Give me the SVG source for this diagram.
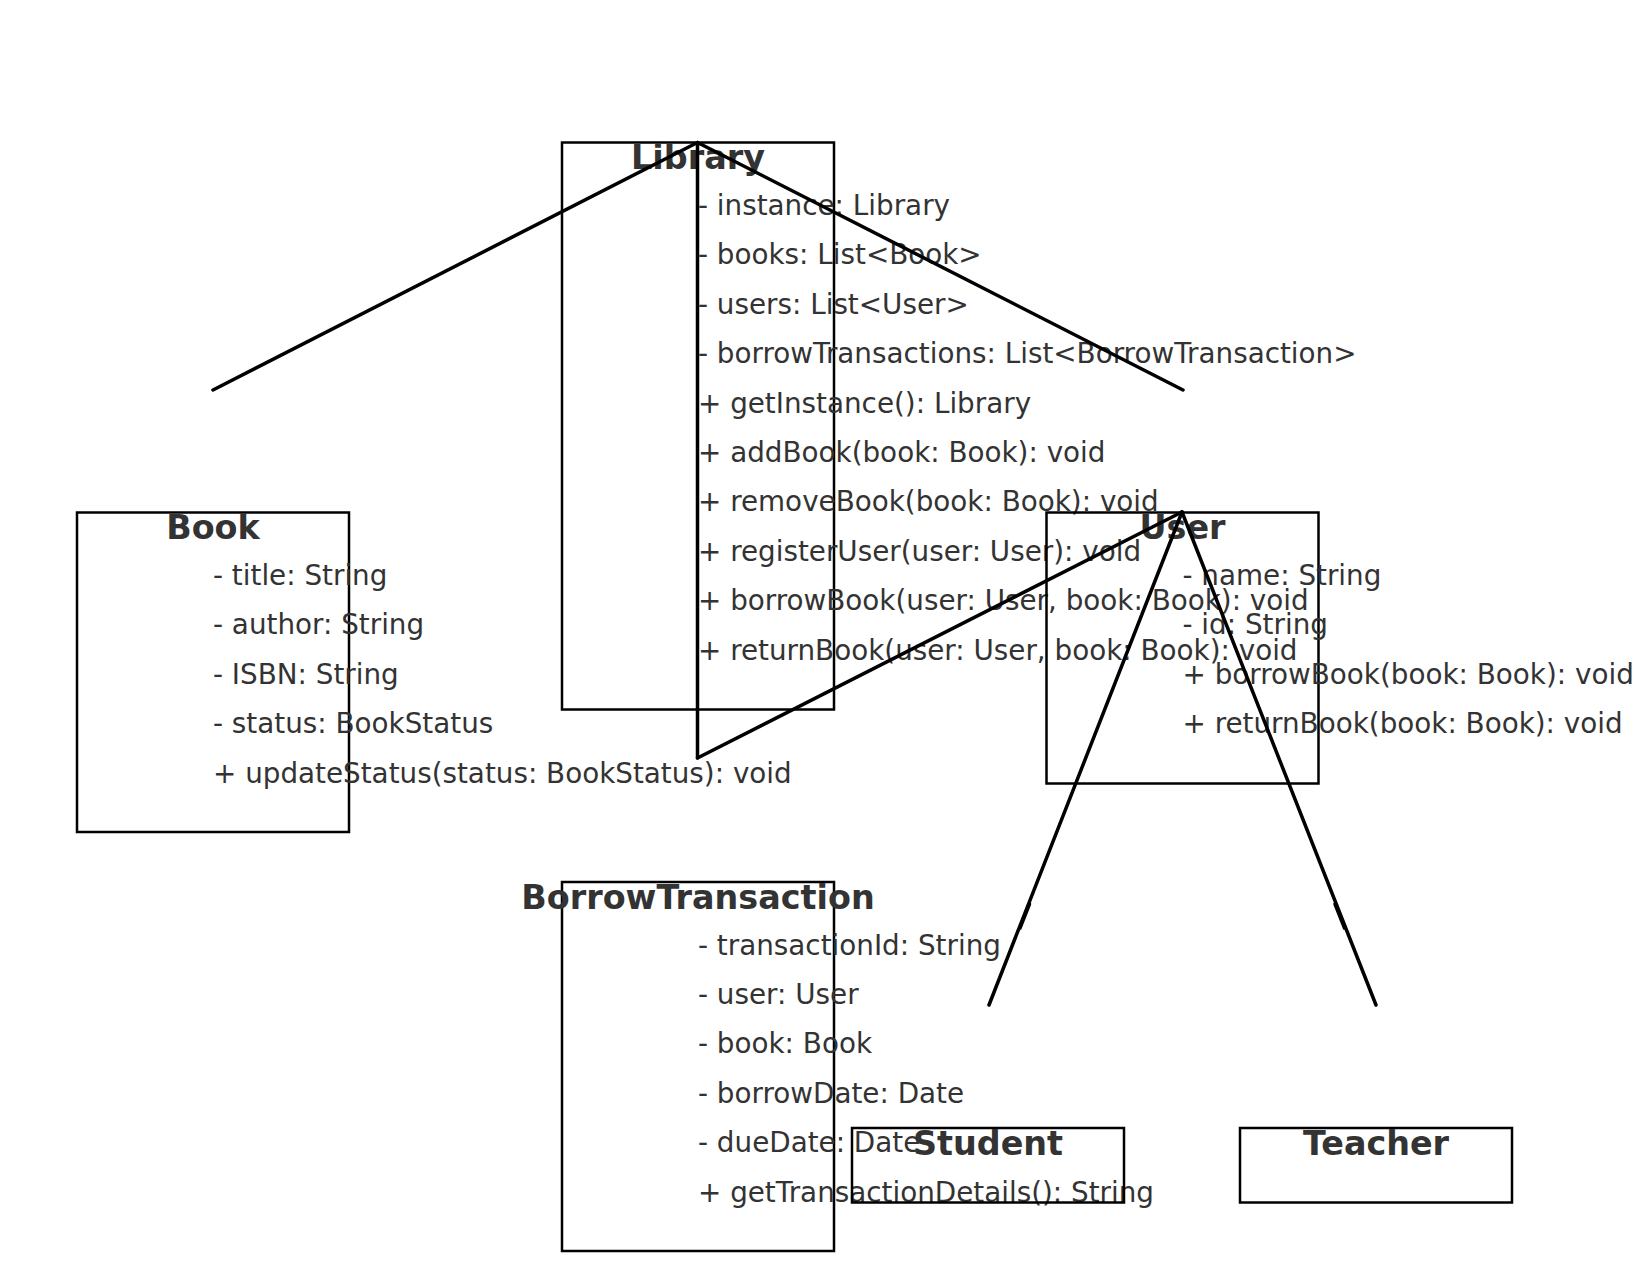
<svg xmlns="http://www.w3.org/2000/svg" width="1652" height="1272" viewBox="0 0 1652 1272">
<style>
.box{fill:none;stroke:#000;stroke-width:2.5}
.t{font-family:"DejaVu Sans",sans-serif;font-size:33.4px;font-weight:bold;fill:#333;text-anchor:middle}
.a{font-family:"DejaVu Sans",sans-serif;font-size:27.8px;fill:#333}
.c{stroke:#000;stroke-width:3.5;fill:none;stroke-linecap:round;stroke-linejoin:miter}
</style>
<rect width="1652" height="1272" fill="#fff"/>
<g id="node-library">
<rect class="box" x="562" y="142.5" width="272" height="567"/>
<text class="t" x="698" y="169">Library</text>
<text class="a" x="698" y="215">- instance: Library</text>
<text class="a" x="698" y="264.4">- books: List&lt;Book&gt;</text>
<text class="a" x="698" y="313.8">- users: List&lt;User&gt;</text>
<text class="a" x="698" y="363.2">- borrowTransactions: List&lt;BorrowTransaction&gt;</text>
<text class="a" x="698" y="412.6">+ getInstance(): Library</text>
<text class="a" x="698" y="462">+ addBook(book: Book): void</text>
<text class="a" x="698" y="511.4">+ removeBook(book: Book): void</text>
<text class="a" x="698" y="560.8">+ registerUser(user: User): void</text>
<text class="a" x="698" y="610.2">+ borrowBook(user: User, book: Book): void</text>
<text class="a" x="698" y="659.6">+ returnBook(user: User, book: Book): void</text>
</g>
<g id="node-book">
<rect class="box" x="77" y="512.5" width="272" height="319.5"/>
<text class="t" x="213" y="539">Book</text>
<text class="a" x="213" y="585">- title: String</text>
<text class="a" x="213" y="634.4">- author: String</text>
<text class="a" x="213" y="683.8">- ISBN: String</text>
<text class="a" x="213" y="733.2">- status: BookStatus</text>
<text class="a" x="213" y="782.6">+ updateStatus(status: BookStatus): void</text>
</g>
<g id="node-user">
<rect class="box" x="1046.5" y="512.5" width="272" height="271"/>
<text class="t" x="1182.5" y="539">User</text>
<text class="a" x="1182.5" y="585">- name: String</text>
<text class="a" x="1182.5" y="634.4">- id: String</text>
<text class="a" x="1182.5" y="683.8">+ borrowBook(book: Book): void</text>
<text class="a" x="1182.5" y="733.2">+ returnBook(book: Book): void</text>
</g>
<g id="node-borrowtransaction">
<rect class="box" x="562" y="882" width="272" height="369"/>
<text class="t" x="698" y="908.5">BorrowTransaction</text>
<text class="a" x="698" y="954.5">- transactionId: String</text>
<text class="a" x="698" y="1003.9">- user: User</text>
<text class="a" x="698" y="1053.3">- book: Book</text>
<text class="a" x="698" y="1102.7">- borrowDate: Date</text>
<text class="a" x="698" y="1152.1">- dueDate: Date</text>
<text class="a" x="698" y="1201.5">+ getTransactionDetails(): String</text>
</g>
<g id="node-student">
<rect class="box" x="852" y="1128" width="272" height="74.5"/>
<text class="t" x="988" y="1154.5">Student</text>
</g>
<g id="node-teacher">
<rect class="box" x="1240" y="1128" width="272" height="74.5"/>
<text class="t" x="1376" y="1154.5">Teacher</text>
</g>
<g id="connectors">
<line class="c" x1="697.5" y1="142.5" x2="213" y2="390"/>
<line class="c" x1="697.5" y1="142.5" x2="1183" y2="390"/>
<line class="c" x1="697.5" y1="142.5" x2="697.5" y2="758"/>
<line class="c" x1="1182" y1="512" x2="697.5" y2="758"/>
<line class="c" x1="1182" y1="512" x2="989" y2="1005"/>
<line class="c" x1="1182" y1="512" x2="1376" y2="1005"/>
<line class="c" x1="1029.5" y1="904" x2="1020" y2="928"/>
<line class="c" x1="1335" y1="904" x2="1344.5" y2="928"/>
</g>
</svg>
